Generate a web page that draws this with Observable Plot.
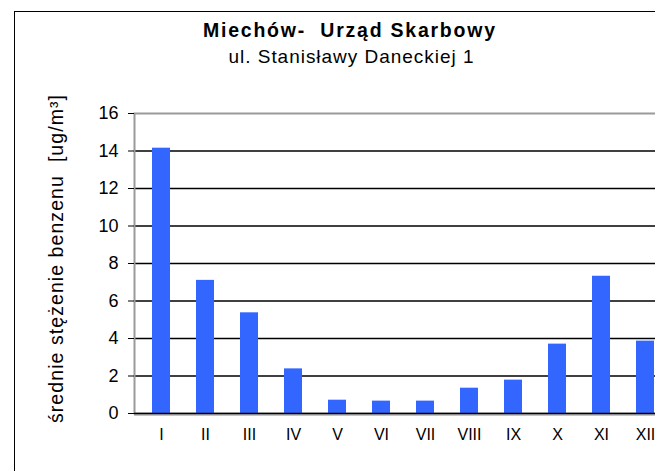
<!DOCTYPE html>
<html>
<head>
<meta charset="utf-8">
<script src="https://cdn.jsdelivr.net/npm/d3@7"></script>
<script src="https://cdn.jsdelivr.net/npm/@observablehq/plot@0.6"></script>
<style>
  html, body { margin: 0; padding: 0; background: #fff; overflow: hidden; }
  #wrap { position: relative; width: 655px; height: 471px; overflow: hidden; background: #fff; }
  #wrap svg { max-width: none !important; width: 700px !important; height: 471px !important; display: block; }
</style>
</head>
<body>
<div id="wrap"></div>
<script>
const months = ["I", "II", "III", "IV", "V", "VI", "VII", "VIII", "IX", "X", "XI", "XII"];
const benzene = [14.15, 7.1, 5.37, 2.38, 0.71, 0.66, 0.66, 1.35, 1.78, 3.7, 7.32, 3.86];
const yTicks = [0, 2, 4, 6, 8, 10, 12, 14, 16];
const titleText = "Miechów-  Urząd Skarbowy";
const subtitleText = "ul. Stanisławy Daneckiej 1";
const yLabelText = "średnie stężenie benzenu  [ug/m³]";

const data = months.map((m, i) => ({month: m, value: benzene[i]}));

const chart = Plot.plot({
  width: 700,
  height: 471,
  marginTop: 113,
  marginBottom: 58,
  marginLeft: 134,
  marginRight: 29,
  style: {fontFamily: "Arial, 'Liberation Sans', sans-serif", background: "white", color: "#000", maxWidth: "none"},
  x: {domain: months, paddingInner: 0.6, paddingOuter: 0.27, label: null},
  y: {domain: [0, 16], label: null},
  marks: [
    Plot.ruleY(yTicks.filter(d => d > 0 && d < 16), {stroke: "#000", strokeWidth: 1.3}),
    Plot.frame({stroke: "#9a9a9a", strokeWidth: 2}),
    Plot.barY(data, {x: "month", y: "value", fill: "#3366FF"}),
    Plot.ruleY([0], {stroke: "#b0b0b0", strokeWidth: 1.5, dy: 1.5}),
    Plot.ruleY([0], {stroke: "#000", strokeWidth: 1.3}),
    Plot.axisY({ticks: yTicks, tickSize: 6, tickPadding: 10, fontSize: 18, label: null, stroke: "#000"}),
    Plot.axisX({tickSize: 0, tickPadding: 15, fontSize: 16, label: null})
  ]
});

document.getElementById("wrap").appendChild(chart);

const svg = d3.select(chart);

// outer chart border
svg.append("rect")
  .attr("x", 14.5).attr("y", 11.5)
  .attr("width", 800).attr("height", 600)
  .attr("fill", "none").attr("stroke", "#000").attr("stroke-width", 1);

svg.append("text")
  .attr("x", 349).attr("y", 37)
  .attr("text-anchor", "middle")
  .attr("font-size", 19.5).attr("font-weight", "bold")
  .attr("textLength", 292).attr("lengthAdjust", "spacing")
  .attr("fill", "#000")
  .style("white-space", "pre")
  .text(titleText);

svg.append("text")
  .attr("x", 351).attr("y", 63)
  .attr("text-anchor", "middle")
  .attr("font-size", 19)
  .attr("textLength", 245).attr("lengthAdjust", "spacing")
  .attr("fill", "#000")
  .text(subtitleText);

svg.append("text")
  .attr("transform", "translate(63,259) rotate(-90)")
  .attr("text-anchor", "middle")
  .attr("font-size", 19.5)
  .attr("textLength", 328).attr("lengthAdjust", "spacing")
  .attr("fill", "#000")
  .style("white-space", "pre")
  .text(yLabelText);
</script>
</body>
</html>
